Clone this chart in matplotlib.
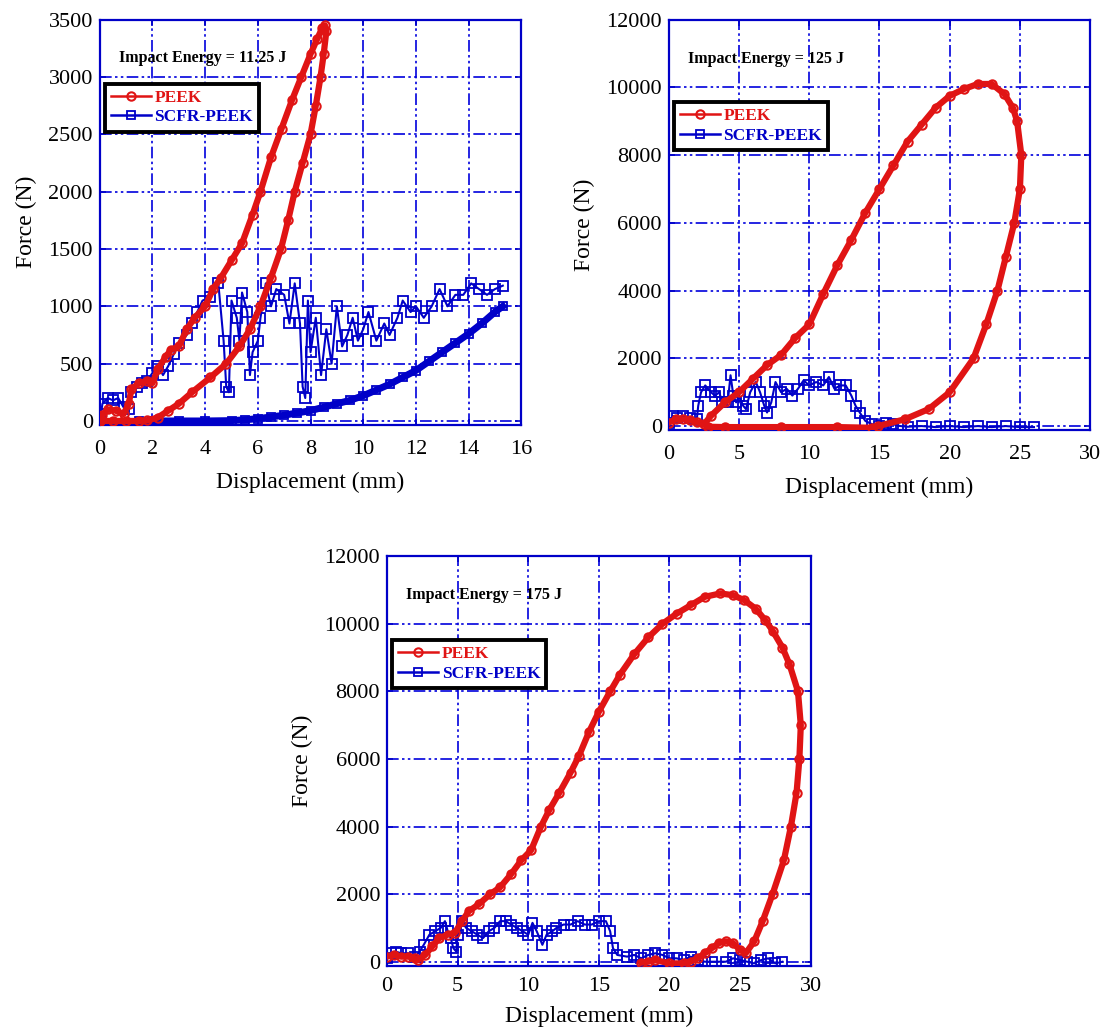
import matplotlib
matplotlib.use("Agg")
import matplotlib.pyplot as plt

# ---------------- data ----------------
# Plot 1: Impact Energy = 11.25 J
peek1_x = [0, 0.1, 0.3, 0.6, 0.9, 1.1, 1.2, 1.5, 1.8, 2.0, 2.2, 2.5, 2.7, 3.0, 3.3, 3.6, 4.0, 4.3, 4.6,
           5.0, 5.4, 5.8, 6.1, 6.5, 6.9, 7.3, 7.65, 8.0, 8.25, 8.45, 8.55,
           8.6, 8.5, 8.38, 8.2, 8.0, 7.7, 7.4, 7.15, 6.88, 6.5, 6.1, 5.7, 5.3, 4.8, 4.2, 3.5, 3.0, 2.6,
           2.2, 1.8, 1.5, 1.0, 0.5, 0.0]
peek1_y = [0, 50, 100, 90, 60, 150, 280, 330, 350, 330, 450, 560, 620, 650, 800, 900, 1000, 1150, 1250,
           1400, 1550, 1800, 2000, 2300, 2550, 2800, 3000, 3200, 3330, 3430, 3450,
           3400, 3200, 3000, 2750, 2500, 2250, 2000, 1750, 1500, 1250, 1000, 800, 650, 500, 380, 250, 150, 90,
           30, 5, 0, 0, 0, 0]
scfr1_x = [0, 0.1, 0.3, 0.5, 0.7, 0.9, 1.1, 1.2, 1.4, 1.6, 1.8, 2.0, 2.2, 2.4, 2.6, 2.8, 3.0, 3.3, 3.5,
           3.7, 3.9, 4.2, 4.5, 4.7, 4.8, 4.9, 5.0, 5.2, 5.3, 5.4, 5.6, 5.7, 5.8, 6.0, 6.1, 6.3, 6.5, 6.7,
           7.0, 7.2, 7.4, 7.6, 7.7, 7.8, 7.9, 8.0, 8.2, 8.4, 8.6, 8.8, 9.0, 9.2, 9.4, 9.6, 9.8, 10.0,
           10.2, 10.5, 10.8, 11.0, 11.3, 11.5, 11.8, 12.0, 12.3, 12.6, 12.9, 13.2, 13.5, 13.8, 14.1,
           14.4, 14.7, 15.0, 15.3]
scfr1_y = [0, 150, 200, 180, 200, 120, 100, 250, 300, 330, 350, 420, 480, 400, 480, 580, 680, 750, 850,
           950, 1050, 1080, 1200, 700, 300, 250, 1050, 900, 700, 1120, 950, 400, 600, 700, 900, 1200, 1000, 1150,
           1100, 850, 1200, 850, 300, 200, 1050, 600, 900, 400, 800, 500, 1000, 650, 750, 900, 700, 800,
           950, 700, 850, 750, 900, 1050, 950, 1000, 900, 1000, 1150, 1000, 1100, 1100, 1200,
           1150, 1100, 1150, 1180]
scfr1_unload_x = [15.3, 15.0, 14.5, 14.0, 13.5, 13.0, 12.5, 12.0, 11.5, 11.0, 10.5, 10.0, 9.5, 9.0, 8.5,
                  8.0, 7.5, 7.0, 6.5, 6.0, 5.5, 5.0, 4.0, 3.0, 2.0, 1.5]
scfr1_unload_y = [1000, 950, 850, 760, 680, 600, 520, 440, 380, 320, 270, 220, 180, 150, 120,
                  90, 70, 50, 35, 20, 10, 3, 0, 0, 0, 0]

# Plot 2: Impact Energy = 125 J
peek2_x = [0, 0.5, 1.0, 1.5, 2.0, 2.5, 3, 4, 5, 6, 7, 8, 9, 10, 11, 12, 13, 14, 15, 16, 17, 18, 19, 20,
           21, 22, 23, 23.9, 24.5, 24.8, 25.1, 25.0, 24.6, 24.0, 23.4, 22.6, 21.7, 20.0, 18.5, 16.8, 14.9,
           14.5, 12, 8, 4, 2.8]
peek2_y = [100, 200, 200, 180, 120, 50, 300, 700, 1000, 1400, 1800, 2100, 2600, 3000, 3900, 4750, 5500,
           6300, 7000, 7700, 8400, 8900, 9400, 9750, 9950, 10100, 10100, 9800, 9400, 9000, 8000, 7000,
           6000, 5000, 4000, 3000, 2000, 1000, 500, 200, 0, -50, -30, -30, -30, -20]
scfr2_x = [0, 0.3, 0.6, 1.0, 1.5, 2.0, 2.1, 2.3, 2.6, 3.0, 3.3, 3.6, 3.8, 4.2, 4.4, 4.6, 4.8, 5.0, 5.3,
           5.5, 5.8, 6.2, 6.5, 6.8, 7.0, 7.3, 7.6, 8.0, 8.4, 8.8, 9.2, 9.6, 10.0, 10.5, 11.0, 11.4, 11.8,
           12.2, 12.6, 13.0, 13.3, 13.6, 14.0, 14.5, 15.0, 15.5, 16.0, 16.5, 17, 18, 19, 20, 21, 22, 23,
           24, 25, 26]
scfr2_y = [100, 300, 250, 300, 250, 200, 600, 1000, 1200, 1000, 900, 1000, 700, 700, 1500, 900, 700, 900,
           600, 500, 1000, 1300, 1000, 600, 400, 700, 1300, 1000, 1100, 900, 1100, 1350, 1200, 1300, 1200,
           1450, 1100, 1200, 1200, 900, 600, 400, 150, 50, 0, 100, 50, 0, -20, 0, -30, 0, -30, 0, -30,
           0, -30, -30]

# Plot 3: Impact Energy = 175 J
peek3_x = [0, 0.5, 1.0, 1.5, 2.0, 2.2, 2.7, 3.2, 3.7, 4.3, 4.8, 5.3, 5.8, 6.5, 7.3, 8.0, 8.8, 9.5, 10.2,
           10.9, 11.5, 12.2, 13.0, 13.6, 14.3, 15.0, 15.8, 16.5, 17.5, 18.5, 19.5, 20.5, 21.5, 22.5, 23.6,
           24.5, 25.3, 26.1, 26.8, 27.3, 28.0, 28.5, 29.1, 29.3, 29.2, 29.0, 28.6, 28.1, 27.3, 26.6, 26.0,
           25.4, 25.0, 24.5, 24.0, 23.5, 23.0, 22.5, 22.0, 21.5, 21.0, 20.0, 19.0, 18.5, 18.0]
peek3_y = [150, 200, 150, 150, 100, 50, 200, 450, 700, 800, 850, 1200, 1500, 1700, 2000, 2200, 2600, 3000,
           3300, 4000, 4500, 5000, 5600, 6100, 6800, 7400, 8000, 8500, 9100, 9600, 10000, 10300, 10550,
           10800, 10900, 10850, 10700, 10450, 10100, 9800, 9300, 8800, 8000, 7000, 6000, 5000, 4000,
           3000, 2000, 1200, 600, 250, 350, 550, 600, 550, 400, 250, 100, 0, -50, -50, 50, 0, -30]
scfr3_x = [0, 0.3, 0.6, 1.0, 1.5, 2.0, 2.3, 2.6, 3.0, 3.4, 3.8, 4.1, 4.3, 4.5, 4.7, 4.9, 5.0, 5.3, 5.6,
           6.0, 6.4, 6.8, 7.2, 7.6, 8.0, 8.4, 8.8, 9.2, 9.6, 10.0, 10.3, 10.6, 11.0, 11.3, 11.7, 12.0,
           12.5, 13.0, 13.5, 14.0, 14.5, 15.0, 15.5, 15.8, 16.0, 16.3, 17.0, 17.5, 18.0, 18.5, 19.0,
           19.5, 20.0, 20.5, 21.0, 21.5, 22.0, 22.5, 23.0, 24.0, 24.5, 25.0, 25.5, 26.0, 26.5, 27.0,
           27.5, 28.0]
scfr3_y = [100, 250, 300, 250, 250, 150, 300, 500, 800, 900, 1000, 1200, 900, 700, 400, 300, 800, 1200,
           1000, 900, 800, 700, 900, 1000, 1200, 1200, 1100, 1000, 900, 800, 1150, 900, 500, 800, 900,
           1000, 1100, 1100, 1200, 1100, 1100, 1200, 1200, 900, 400, 200, 150, 200, 100, 200, 250,
           200, 100, 100, 50, 150, 50, 0, 0, 0, 100, 50, 0, -50, 50, 100, -50, 0]

energies = ["Impact Energy = 11.25 J", "Impact Energy = 125 J", "Impact Energy = 175 J"]
x_ticks = [[0, 2, 4, 6, 8, 10, 12, 14, 16], [0, 5, 10, 15, 20, 25, 30], [0, 5, 10, 15, 20, 25, 30]]
y_ticks = [[0, 500, 1000, 1500, 2000, 2500, 3000, 3500],
           [0, 2000, 4000, 6000, 8000, 10000, 12000],
           [0, 2000, 4000, 6000, 8000, 10000, 12000]]

# ---------------- style ----------------
plt.rcParams['font.family'] = ['Liberation Serif', 'DejaVu Serif']
RED = '#E01414'
BLUE = '#0000C8'
GRID = '#0000DD'

fig = plt.figure(figsize=(11.09, 10.34), dpi=100)
rects = [[0.090, 0.589, 0.380, 0.392],
         [0.603, 0.584, 0.380, 0.397],
         [0.349, 0.066, 0.382, 0.396]]
legend_anchor = [(0.0, 0.855), (0.0, 0.812), (0.0, 0.808)]
xpads = [11, 11, 8]
xlabelpads = [9, 9, 7]

series = [
    (peek1_x, peek1_y, scfr1_x, scfr1_y, scfr1_unload_x, scfr1_unload_y),
    (peek2_x, peek2_y, scfr2_x, scfr2_y, None, None),
    (peek3_x, peek3_y, scfr3_x, scfr3_y, None, None),
]

for i, rect in enumerate(rects):
    ax = fig.add_axes(rect)
    px, py, sx, sy, ux, uy = series[i]
    ax.plot(px, py, color=RED, lw=4.5, marker='o', ms=6, mfc='none', mec=RED, mew=1.5,
            label='PEEK', zorder=4, solid_joinstyle='round')
    ax.plot(sx, sy, color=BLUE, lw=1.5, marker='s', ms=7, mfc='none', mec=BLUE, mew=1.3,
            label='SCFR-PEEK', zorder=3)
    if ux is not None:
        ax.plot(ux, uy, color=BLUE, lw=5, marker='s', ms=6, mfc='none', mec=BLUE, mew=1.3,
                zorder=3)
    ax.set_xlim(x_ticks[i][0], x_ticks[i][-1])
    ax.set_ylim(y_ticks[i][0] - (y_ticks[i][-1] * 0.01), y_ticks[i][-1])
    ax.set_xticks(x_ticks[i])
    ax.set_yticks(y_ticks[i])
    ax.tick_params(direction='in', colors='black', labelsize=16, length=4, width=1.2,
                   top=True, right=True)
    ax.tick_params(axis='x', pad=xpads[i])
    ax.tick_params(axis='y', pad=5)
    ax.tick_params(axis='both', color=BLUE)
    for sp in ax.spines.values():
        sp.set_color(BLUE)
        sp.set_linewidth(1.6)
    ax.grid(True, color=GRID, lw=1.2, linestyle=(0, (7, 2, 1.5, 2, 1.5, 2)))
    ax.set_axisbelow(True)
    ax.set_xlabel('Displacement (mm)', fontsize=17, labelpad=xlabelpads[i])
    ax.set_ylabel('Force (N)', fontsize=17, labelpad=8)
    ax.text(0.045, 0.905, energies[i], transform=ax.transAxes, fontsize=11.5,
            fontweight='bold', ha='left', va='center', zorder=6)
    leg = ax.legend(loc='upper left', bbox_to_anchor=legend_anchor[i], fancybox=False,
                    framealpha=1, edgecolor='black', borderpad=0.35, handlelength=2.3,
                    handletextpad=0.2, labelspacing=0.2, prop={'weight': 'bold', 'size': 12.5},
                    borderaxespad=0.3)
    leg.get_frame().set_linewidth(2.8)
    leg.set_zorder(7)
    for ln in leg.get_lines():
        ln.set_linewidth(1.8)
        ln.set_markersize(6)
    for txt, col in zip(leg.get_texts(), [RED, BLUE]):
        txt.set_color(col)

fig.savefig('out.png', dpi=100)
